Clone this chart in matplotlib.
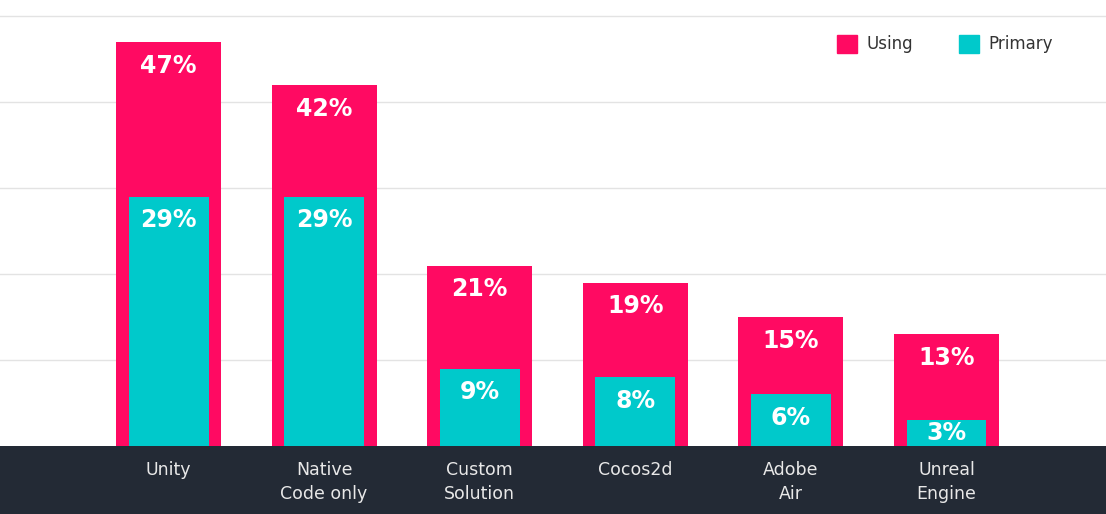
import matplotlib.pyplot as plt
from matplotlib.patches import Patch, Rectangle

categories = ['Unity', 'Native\nCode only', 'Custom\nSolution', 'Cocos2d', 'Adobe\nAir', 'Unreal\nEngine']
using = [47, 42, 21, 19, 15, 13]
primary = [29, 29, 9, 8, 6, 3]

PINK = '#FF0A62'
TEAL = '#00C9CB'
DARK = '#232A35'


def main():
    fig = plt.figure(figsize=(11.06, 5.14), dpi=100)
    fig.patch.set_facecolor('white')
    band_h = 68 / 514
    fig.patches.append(Rectangle((0, 0), 1, band_h, transform=fig.transFigure,
                                 facecolor=DARK, edgecolor='none', zorder=-1))

    ax = fig.add_axes([0, band_h, 1, 1 - band_h])
    ax.set_zorder(1)
    ax.set_facecolor('none')
    x = list(range(len(categories)))
    ymax = 51.9
    pt_per_unit = (446 / ymax) * 0.72

    ax.bar(x, using, width=0.675, color=PINK, zorder=2)
    ax.bar(x, primary, width=0.514, color=TEAL, zorder=3)

    for vals in (using, primary):
        for i in x:
            off = min(17, vals[i] * pt_per_unit / 2)
            ax.annotate(f'{vals[i]}%', (i, vals[i]), xytext=(0, -off), textcoords='offset points',
                        ha='center', va='center', color='white', fontsize=17,
                        fontweight='bold', zorder=4)

    ax.set_xlim(-1.083, 6.025)
    ax.set_ylim(0, ymax)
    ax.set_yticks([10, 20, 30, 40, 50])
    ax.yaxis.grid(True, color='#E3E3E3', linewidth=1)
    ax.set_axisbelow(True)
    ax.tick_params(axis='y', left=False, labelleft=False)
    ax.set_xticks(x)
    ax.set_xticklabels(categories, color='#E8E8E8', fontsize=12.5, linespacing=1.4)
    ax.tick_params(axis='x', length=0, pad=11)
    for s in ax.spines.values():
        s.set_visible(False)

    handles = [Patch(color=PINK, label='Using'), Patch(color=TEAL, label='Primary')]
    fig.legend(handles=handles, loc='center left', bbox_to_anchor=(837 / 1106, 1 - 44 / 514),
               ncol=2, frameon=False, fontsize=12, handlelength=1.2, handleheight=1.3,
               handletextpad=0.6, columnspacing=2.7, borderpad=0, borderaxespad=0,
               labelcolor='#333333')

    fig.savefig('out.png', dpi=100)


if __name__ == '__main__':
    main()
